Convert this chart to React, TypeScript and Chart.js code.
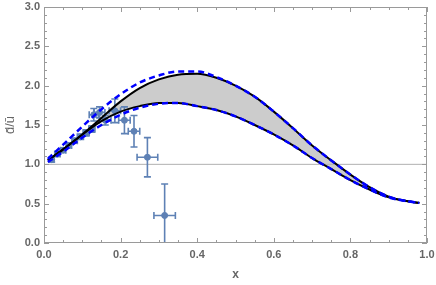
import React, { useEffect, useRef } from "react";
import { Chart, registerables } from "chart.js";

Chart.register(...registerables);

// Curve sample positions
const curveX = [0.01, 0.05, 0.1, 0.15, 0.2, 0.25, 0.3, 0.35, 0.4, 0.45, 0.5, 0.55, 0.6, 0.65, 0.7, 0.75, 0.8, 0.85, 0.9, 0.95, 0.98];
// Black solid band edges
const upperBlack = [1.05, 1.19, 1.38, 1.59, 1.80, 1.97, 2.08, 2.14, 2.15, 2.10, 2.00, 1.86, 1.67, 1.46, 1.24, 1.05, 0.87, 0.71, 0.59, 0.53, 0.51];
const lowerBlack = [1.05, 1.19, 1.38, 1.55, 1.67, 1.74, 1.78, 1.78, 1.74, 1.69, 1.61, 1.50, 1.38, 1.24, 1.08, 0.94, 0.80, 0.68, 0.58, 0.53, 0.51];
// Blue dashed curves
const upperBlue = [1.07, 1.25, 1.48, 1.70, 1.89, 2.04, 2.13, 2.18, 2.18, 2.11, 2.00, 1.86, 1.67, 1.46, 1.24, 1.05, 0.87, 0.71, 0.59, 0.53, 0.51];
const lowerBlue = [1.03, 1.16, 1.34, 1.50, 1.63, 1.72, 1.77, 1.78, 1.74, 1.69, 1.61, 1.50, 1.38, 1.24, 1.08, 0.94, 0.80, 0.68, 0.58, 0.53, 0.51];

// Measured points with errors
const dataX = [0.02, 0.035, 0.05, 0.065, 0.08, 0.095, 0.11, 0.125, 0.13, 0.145, 0.16, 0.185, 0.21, 0.235, 0.27, 0.315];
const dataY = [1.06, 1.13, 1.18, 1.24, 1.30, 1.35, 1.40, 1.45, 1.63, 1.66, 1.56, 1.68, 1.56, 1.42, 1.09, 0.35];
const errX = [0.006, 0.007, 0.007, 0.007, 0.007, 0.008, 0.008, 0.008, 0.012, 0.014, 0.015, 0.015, 0.015, 0.015, 0.027, 0.028];
const errY = [0.03, 0.03, 0.03, 0.03, 0.03, 0.035, 0.04, 0.04, 0.08, 0.07, 0.06, 0.15, 0.17, 0.2, 0.25, 0.4];

const xTicks = [0, 0.2, 0.4, 0.6, 0.8, 1.0];
const yTicks = [0, 0.5, 1.0, 1.5, 2.0, 2.5, 3.0];
const refLineY = 1.0;

const POINT_COLOR = "#5E81B5";
const AXIS_COLOR = "#9a9a9a";
const LABEL_COLOR = "#666666";

const toPts = (xs: number[], ys: number[]) => xs.map((x, i) => ({ x, y: ys[i] }));

const errorBarPlugin = {
  id: "errorBars",
  afterDatasetDraw(chart: any, args: any) {
    if (args.index !== 5) return;
    const { ctx, chartArea } = chart;
    const xs = chart.scales.x;
    const ys = chart.scales.y;
    ctx.save();
    ctx.beginPath();
    ctx.rect(chartArea.left, chartArea.top, chartArea.right - chartArea.left, chartArea.bottom - chartArea.top);
    ctx.clip();
    ctx.strokeStyle = POINT_COLOR;
    ctx.lineWidth = 1.6;
    const cap = 3.5;
    for (let i = 0; i < dataX.length; i++) {
      const px = xs.getPixelForValue(dataX[i]);
      const py = ys.getPixelForValue(dataY[i]);
      const x0 = xs.getPixelForValue(dataX[i] - errX[i]);
      const x1 = xs.getPixelForValue(dataX[i] + errX[i]);
      const y0 = ys.getPixelForValue(dataY[i] - errY[i]);
      const y1 = ys.getPixelForValue(dataY[i] + errY[i]);
      ctx.beginPath();
      ctx.moveTo(px, y0);
      ctx.lineTo(px, y1);
      ctx.moveTo(px - cap, y0);
      ctx.lineTo(px + cap, y0);
      ctx.moveTo(px - cap, y1);
      ctx.lineTo(px + cap, y1);
      ctx.moveTo(x0, py);
      ctx.lineTo(x1, py);
      ctx.moveTo(x0, py - cap);
      ctx.lineTo(x0, py + cap);
      ctx.moveTo(x1, py - cap);
      ctx.lineTo(x1, py + cap);
      ctx.stroke();
    }
    ctx.restore();
  },
};

const framePlugin = {
  id: "frameTicks",
  afterDraw(chart: any) {
    const { ctx, chartArea } = chart;
    const xs = chart.scales.x;
    const ys = chart.scales.y;
    const { left, right, top, bottom } = chartArea;
    ctx.save();
    ctx.strokeStyle = AXIS_COLOR;
    ctx.lineWidth = 1;
    ctx.strokeRect(left + 0.5, top + 0.5, right - left - 1, bottom - top - 1);
    ctx.beginPath();
    for (let k = 0; k <= 20; k++) {
      const v = k * 0.05;
      const px = Math.round(xs.getPixelForValue(v)) + 0.5;
      const len = k % 4 === 0 ? 5 : 3;
      ctx.moveTo(px, bottom);
      ctx.lineTo(px, bottom - len);
      ctx.moveTo(px, top);
      ctx.lineTo(px, top + len);
    }
    for (let k = 0; k <= 30; k++) {
      const v = k * 0.1;
      const py = Math.round(ys.getPixelForValue(v)) + 0.5;
      const len = k % 5 === 0 ? 5 : 3;
      ctx.moveTo(left, py);
      ctx.lineTo(left + len, py);
      ctx.moveTo(right, py);
      ctx.lineTo(right - len, py);
    }
    ctx.stroke();
    ctx.restore();
  },
};

export default function App() {
  const ref = useRef<HTMLCanvasElement | null>(null);
  useEffect(() => {
    if (!ref.current) return;
    const chart = new Chart(ref.current, {
      type: "line",
      data: {
        datasets: [
          {
            data: toPts(curveX, upperBlack),
            borderColor: "#000000",
            borderWidth: 2,
            pointRadius: 0,
            cubicInterpolationMode: "monotone",
            fill: 1,
            backgroundColor: "rgba(204,204,204,1)",
            order: 3,
          } as any,
          {
            data: toPts(curveX, lowerBlack),
            borderColor: "#000000",
            borderWidth: 2,
            pointRadius: 0,
            cubicInterpolationMode: "monotone",
            fill: false,
            order: 3,
          },
          {
            data: toPts(curveX, upperBlue),
            borderColor: "#0000ff",
            borderWidth: 2.5,
            borderDash: [6, 4],
            pointRadius: 0,
            cubicInterpolationMode: "monotone",
            fill: false,
            order: 2,
          },
          {
            data: toPts(curveX, lowerBlue),
            borderColor: "#0000ff",
            borderWidth: 2.5,
            borderDash: [6, 4],
            pointRadius: 0,
            cubicInterpolationMode: "monotone",
            fill: false,
            order: 2,
          },
          {
            data: [
              { x: 0, y: refLineY },
              { x: 1, y: refLineY },
            ],
            borderColor: "#b0b0b0",
            borderWidth: 1,
            pointRadius: 0,
            fill: false,
            order: 6,
          },
          {
            type: "scatter",
            data: toPts(dataX, dataY),
            backgroundColor: POINT_COLOR,
            borderColor: POINT_COLOR,
            pointRadius: 3,
            order: 5,
          } as any,
        ],
      },
      options: {
        responsive: false,
        animation: false,
        devicePixelRatio: 1,
        layout: { padding: { top: 7, right: 9, left: 0, bottom: 0 } },
        plugins: {
          legend: { display: false },
          tooltip: { enabled: false },
          filler: { drawTime: "beforeDatasetsDraw" },
        } as any,
        scales: {
          x: {
            type: "linear",
            min: 0,
            max: 1,
            grid: { display: false, drawTicks: false },
            border: { display: false },
            afterBuildTicks: (s: any) => {
              s.ticks = xTicks.map((v) => ({ value: v }));
            },
            afterFit: (s: any) => {
              s.height = 42;
              s.paddingLeft = 0;
              s.paddingRight = 0;
            },
            ticks: {
              padding: 5,
              color: LABEL_COLOR,
              font: { family: "Liberation Sans", size: 11, weight: "bold" },
              callback: (v: any) => Number(v).toFixed(1),
              maxRotation: 0,
            },
            title: {
              display: true,
              text: "x",
              color: LABEL_COLOR,
              font: { family: "Liberation Sans", size: 12, weight: "bold" },
              padding: { top: 0, bottom: 3 },
            },
          },
          y: {
            type: "linear",
            min: 0,
            max: 3,
            grid: { display: false, drawTicks: false },
            border: { display: false },
            afterBuildTicks: (s: any) => {
              s.ticks = yTicks.map((v) => ({ value: v }));
            },
            afterFit: (s: any) => {
              s.width = 44;
              s.paddingTop = 0;
              s.paddingBottom = 0;
            },
            ticks: {
              padding: 4,
              color: LABEL_COLOR,
              font: { family: "Liberation Sans", size: 11, weight: "bold" },
              callback: (v: any) => Number(v).toFixed(1),
            },
            title: {
              display: true,
              text: "d\u0304/\u016B",
              color: LABEL_COLOR,
              font: { family: "Liberation Sans", size: 13 },
              padding: { top: 3, bottom: 0 },
            },
          },
        },
      } as any,
      plugins: [errorBarPlugin, framePlugin],
    });
    return () => chart.destroy();
  }, []);
  return (
    <div style={{ position: "absolute", left: 0, top: 0, width: 436, height: 285 }}>
      <canvas ref={ref} width={436} height={285} />
    </div>
  );
}
